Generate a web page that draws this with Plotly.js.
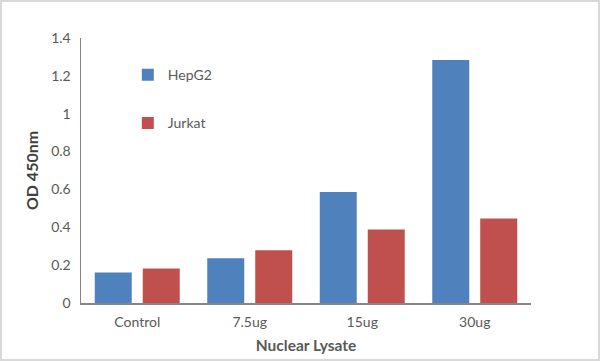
<!DOCTYPE html>
<html>
<head>
<meta charset="utf-8">
<script src="https://cdn.plot.ly/plotly-3.0.1.min.js"></script>
<style>
html,body{margin:0;padding:0;background:#fff;}
#wrap{position:relative;width:600px;height:361px;}
#chart{position:absolute;left:0;top:0;width:600px;height:361px;}
#frame{position:absolute;left:0;top:0;width:600px;height:361px;box-sizing:border-box;border:2px solid #d9d9d9;pointer-events:none;}
</style>
</head>
<body>
<div id="wrap"><div id="chart"></div><div id="frame"></div></div>
<script>
const categories = ["Control", "7.5ug", "15ug", "30ug"];
const hepg2 = [0.161, 0.236, 0.587, 1.284];
const jurkat = [0.182, 0.279, 0.388, 0.447];
const yTicks = [0, 0.2, 0.4, 0.6, 0.8, 1, 1.2, 1.4];

const font = "Lato, 'Open Sans', sans-serif";
const traces = [
  {type: "bar", name: "HepG2", x: categories, y: hepg2, legendgroup: "a",
   marker: {color: "#4F81BD"}},
  {type: "bar", name: "Jurkat", x: categories, y: jurkat, legendgroup: "b",
   marker: {color: "#C0504D"}}
];
const layout = {
  width: 600, height: 361,
  margin: {l: 81, r: 69, t: 38, b: 58},
  paper_bgcolor: "#ffffff", plot_bgcolor: "#ffffff",
  barmode: "group", bargap: 0.147, bargroupgap: 0.229,
  font: {family: font, size: 14, color: "#595959"},
  showlegend: true,
  legend: {x: 0.104, y: 0.92, xanchor: "left", yanchor: "top",
           tracegroupgap: 27, font: {size: 14, color: "#595959"},
           bgcolor: "rgba(0,0,0,0)"},
  xaxis: {
    type: "category", showline: true, linecolor: "#868686", linewidth: 1.5,
    ticks: "", showgrid: false, zeroline: false, ticklabelstandoff: 6,
    tickfont: {size: 14, color: "#595959"},
    title: {text: "<b>Nuclear Lysate</b>", font: {size: 15.5, color: "#595959"}, standoff: 11}
  },
  yaxis: {
    range: [0, 1.4], tickvals: yTicks, ticktext: yTicks.map(String),
    showline: true, linecolor: "#868686", linewidth: 1.5,
    ticks: "", showgrid: false, zeroline: false, ticklabelstandoff: 6,
    tickfont: {size: 14, color: "#595959"},
    title: {text: "<b>OD 450nm</b>", font: {size: 16, color: "#404040"}, standoff: 8}
  }
};
Plotly.newPlot("chart", traces, layout, {displayModeBar: false, staticPlot: true});
</script>
</body>
</html>
